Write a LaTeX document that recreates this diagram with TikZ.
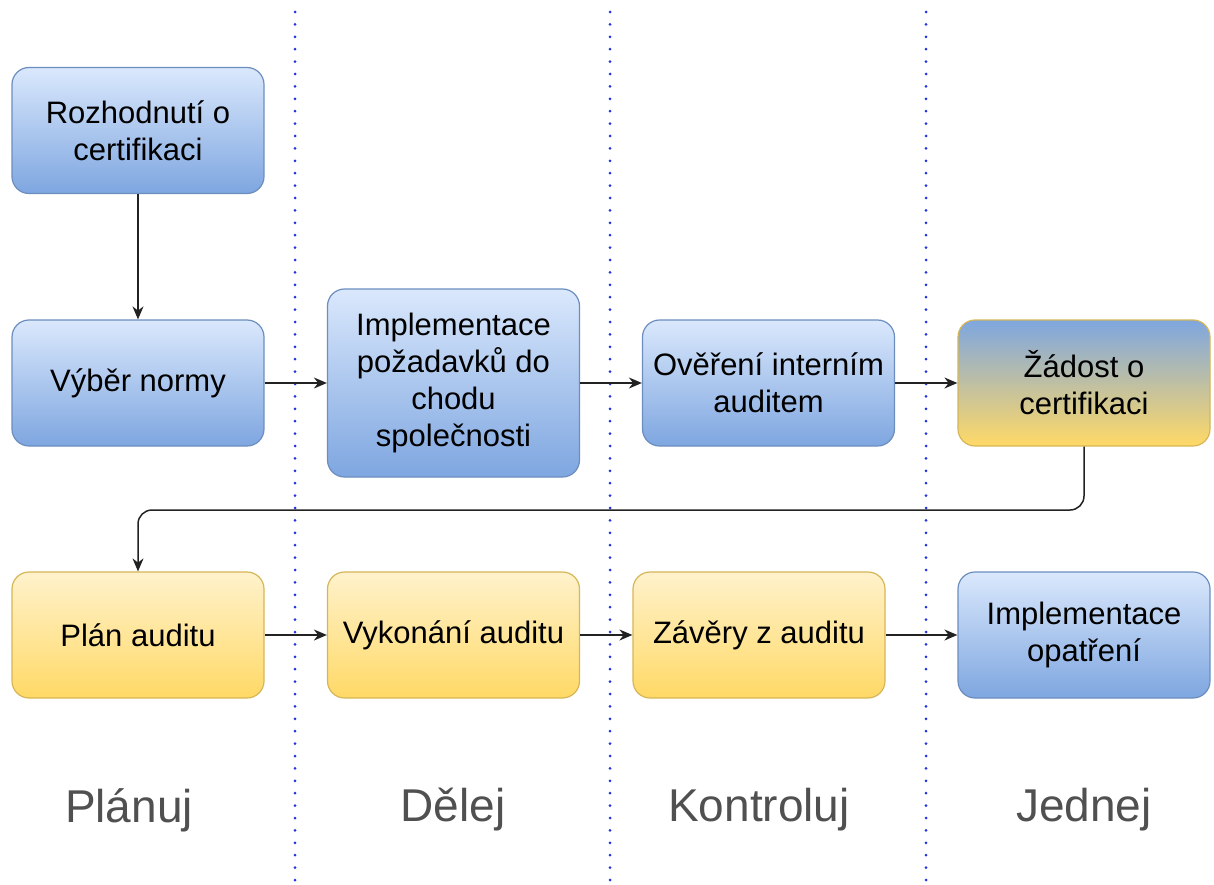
\documentclass[tikz,border=0pt]{standalone}
\usepackage{fontspec}
\setmainfont{Liberation Sans}
\usetikzlibrary{arrows.meta}
\definecolor{bluetop}{HTML}{DAE8FC}
\definecolor{bluebot}{HTML}{7EA6E0}
\definecolor{blueline}{HTML}{6C8EBF}
\definecolor{yeltop}{HTML}{FFF2CC}
\definecolor{yelbot}{HTML}{FFD966}
\definecolor{yelline}{HTML}{D6B656}
\definecolor{phase}{HTML}{505050}
\definecolor{sep}{HTML}{2233DD}
\definecolor{wire}{HTML}{222222}
\begin{document}
\begin{tikzpicture}[x=1pt,y=-1pt,
  box/.style={rounded corners=17pt, minimum width=252pt, minimum height=126pt,
    inner sep=0pt, align=center, line width=1.2pt,
    font=\fontsize{31}{37}\selectfont},
  bluebox/.style={box, draw=blueline, top color=bluetop, bottom color=bluebot},
  yelbox/.style={box, draw=yelline, top color=yeltop, bottom color=yelbot},
  mixbox/.style={box, draw=yelline, top color=bluebot, bottom color=yelbot},
  flow/.style={draw=wire, line width=1.5pt, -{Stealth[length=13pt,width=11pt]}},
  lane/.style={draw=sep, line width=3pt, line cap=round, dash pattern=on 0pt off 12.4pt},
  phaselabel/.style={text=phase, font=\fontsize{46}{50}\selectfont, inner sep=0pt}]
\useasboundingbox (0,0) rectangle (1214,885);

% lane separators
\coordinate (l1t) at (295,12);  \coordinate (l1b) at (295,885);
\coordinate (l2t) at (610,12);  \coordinate (l2b) at (610,885);
\coordinate (l3t) at (926,12);  \coordinate (l3b) at (926,885);
\draw[lane] (l1t) -- (l1b);
\draw[lane] (l2t) -- (l2b);
\draw[lane] (l3t) -- (l3b);

% process steps
\node[bluebox] (dec)  at (138,130.5) {Rozhodnutí o\\certifikaci};
\node[bluebox] (sel)  at (138,383) {Výběr normy};
\node[bluebox, minimum height=188pt] (impl) at (453.5,383) {Implementace\\požadavků do\\chodu\\společnosti};
\node[bluebox] (ver)  at (768.5,383) {Ověření interním\\auditem};
\node[mixbox]  (req)  at (1084,383) {Žádost o\\certifikaci};
\node[yelbox]  (plan) at (138,635) {Plán auditu};
\node[yelbox]  (exec) at (453.5,635) {Vykonání auditu};
\node[yelbox]  (conc) at (759,635) {Závěry z auditu};
\node[bluebox] (act)  at (1084,635) {Implementace\\opatření};

% connectors
\draw[flow] (dec) -- (sel);
\draw[flow] (sel) -- (impl);
\draw[flow] (impl) -- (ver);
\draw[flow] (ver) -- (req);
\coordinate (turnA) at (1084,510);
\coordinate (turnB) at (138,510);
\draw[flow, rounded corners=14pt] (req.south) -- (turnA) -- (turnB) -- (plan.north);
\draw[flow] (plan) -- (exec);
\draw[flow] (exec) -- (conc);
\draw[flow] (conc) -- (act);

% phase names
\node[phaselabel] (p1) at (129,810) {Plánuj};
\node[phaselabel] (p2) at (453,810) {Dělej};
\node[phaselabel] (p3) at (759,810) {Kontroluj};
\node[phaselabel] (p4) at (1084,810) {Jednej};
\end{tikzpicture}
\end{document}
